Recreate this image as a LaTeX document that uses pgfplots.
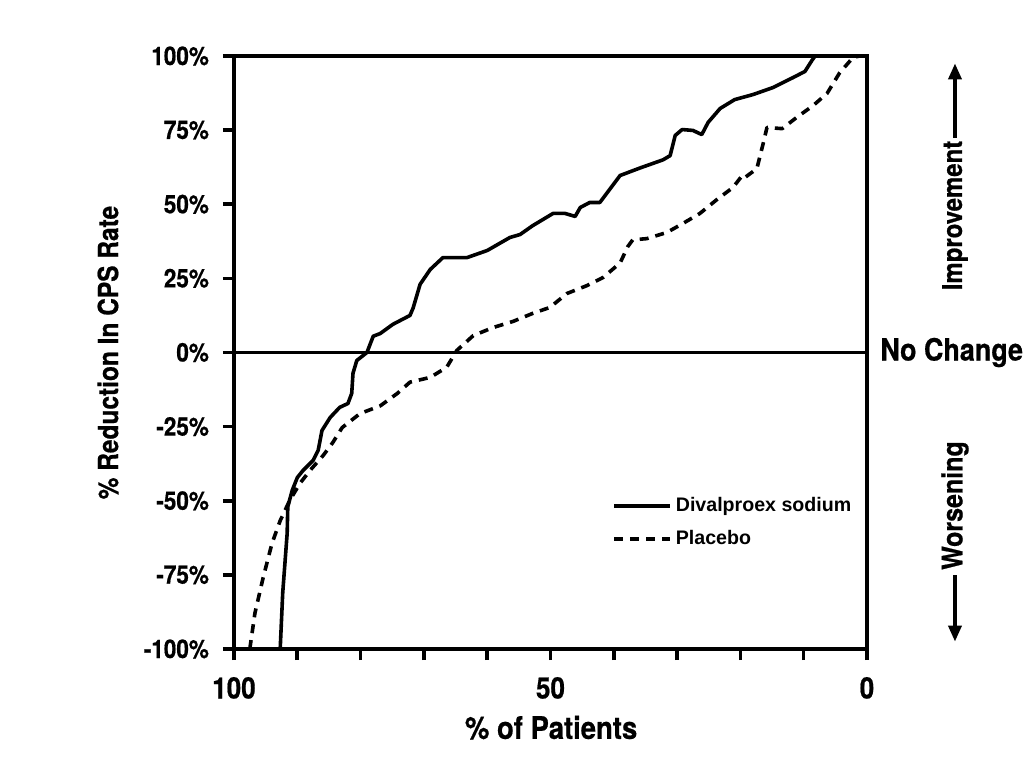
\documentclass[border=0pt]{standalone}
\usepackage{pgfplots}
\pgfplotsset{compat=1.18}
\usepackage{fontspec}
\setmainfont{TeX Gyre Heros}
\newfontfamily\cnfont{TeX Gyre Heros}[FakeStretch=0.88, FakeBold=0.6]
\newfontfamily\lgfont{Liberation Sans}
\usetikzlibrary{arrows.meta}

\begin{document}
\begin{tikzpicture}
\begin{axis}[
    name=ax,
    width=316.5pt, height=296.5pt, scale only axis,
    xmin=0, xmax=100, x dir=reverse,
    ymin=-100, ymax=100,
    clip=false,
    axis line style={line width=1.8pt},
    xtick={0,50,100}, xticklabels={0,50,100},
    minor xtick={10,20,30,40,60,70,80,90},
    ytick={-100,-75,...,100},
    yticklabels={-100\%,-75\%,-50\%,-25\%,0\%,25\%,50\%,75\%,100\%},
    xtick pos=left, ytick pos=left,
    tick align=outside,
    major tick length=5.5pt, minor tick length=5.5pt,
    every tick/.style={line width=1.8pt, black},
    /pgf/number format/assume math mode=true,
    yticklabel style={font=\cnfont\bfseries\fontsize{12.8}{14}\selectfont, xshift=-3.5pt},
    xticklabel style={font=\cnfont\bfseries\fontsize{14.8}{16}\selectfont, yshift=-5pt},
    legend style={at={(0.597,0.263)}, anchor=north west, draw=none, fill=none,
        font=\lgfont\bfseries\fontsize{9.8}{12}\selectfont,
        row sep=4pt, inner sep=0pt},
    legend cell align=left,
    legend image code/.code={\draw[#1] (0pt,0pt) -- (28pt,0pt);},
]

% zero line
\addplot[black, line width=1.8pt, forget plot] coordinates {(0,0) (100,0)};

% Divalproex sodium
\addplot[black, line width=1.8pt, line join=round] coordinates {
(92.7,-100) (92.3,-81) (91.6,-61) (91.5,-52) (90.8,-46.5) (90.0,-42.2)
(89.1,-39.8) (87.5,-36.4) (86.7,-33) (86.1,-26.3) (84.8,-21.9) (83.3,-18.5)
(82.0,-17.2) (81.4,-13.8) (81.2,-7) (80.6,-2.7) (79.0,0) (78.0,5.5)
(76.9,6.4) (74.9,9.5) (72.2,12.5) (71.7,15) (70.6,23) (69.0,28) (67.0,32)
(63.2,32) (60.0,34.4) (56.4,38.8) (54.8,39.8) (52.8,42.8) (49.6,46.9)
(47.7,46.9) (46.1,45.9) (45.3,48.9) (43.8,50.6) (42.2,50.6) (39.0,59.7)
(35.9,62.2) (32.2,65) (31.1,66.4) (30.3,73.2) (29.2,75.2) (27.5,74.9)
(26.1,73.5) (25.1,77.6) (23.2,82.3) (20.9,85.3) (18.0,87) (14.8,89.4)
(11.7,92.7) (9.8,94.8) (8.7,98.5) (8.2,100)
};
\addlegendentry{Divalproex sodium}

% Placebo
\addplot[black, line width=1.8pt, dash pattern=on 4.5pt off 3.5pt, line join=round] coordinates {
(97.5,-100) (96.7,-88) (95.4,-76) (94.0,-64.4) (92.7,-56.7) (91.2,-49.9)
(89.6,-44.2) (88.0,-39.8) (85.9,-34.7) (84.4,-30.4) (82.9,-25.3) (80.1,-20.6)
(76.9,-18) (74.2,-13.8) (72.2,-10) (69.0,-8.4) (66.4,-5) (64.8,0.7)
(62.2,5.7) (59.1,8.4) (55.9,10.5) (52.8,13.2) (50.1,15.2) (47.4,19.9)
(44.2,22.6) (41.7,25.3) (39.0,30.2) (37.8,35.7) (37.0,38) (34.8,38.4)
(31.6,40.5) (29.1,43.5) (26.4,46.9) (23.7,51.6) (21.2,55.6) (19.7,59.7)
(19.3,59) (17.4,62) (16.4,70.5) (15.8,75.9) (13.4,75.5) (11.1,79.3)
(8.5,83.3) (6.3,87.4) (4.3,94.4) (2.2,99.5) (1.2,100)
};
\addlegendentry{Placebo}

% labels
\node[rotate=90, font=\cnfont\bfseries\fontsize{13.9}{16}\selectfont]
    at (axis cs:119.9,0) {\% Reduction In CPS Rate};
\node[font=\cnfont\bfseries\fontsize{15.6}{18}\selectfont]
    at (axis cs:49.9,-126.5) {\% of Patients};
\node[anchor=west, inner sep=0pt, font=\cnfont\bfseries\fontsize{15.3}{18}\selectfont]
    at (axis cs:-2.05,0) {No Change};
\node[rotate=90, font=\cnfont\bfseries\fontsize{13.6}{16}\selectfont]
    at (axis cs:-13.9,46.2) {Improvement};
\node[rotate=90, font=\cnfont\bfseries\fontsize{14.2}{16}\selectfont]
    at (axis cs:-13.9,-51.6) {Worsening};
\draw[line width=1.8pt, -{Triangle[length=8pt,width=6.5pt]}]
    (axis cs:-13.9,72.5) -- (axis cs:-13.9,97.5);
\draw[line width=1.8pt, -{Triangle[length=8pt,width=6.5pt]}]
    (axis cs:-13.9,-75.2) -- (axis cs:-13.9,-97.5);
\end{axis}
\path (ax.south west) ++(-117pt,-59.5pt) rectangle ++(512pt,384pt);
\end{tikzpicture}
\end{document}
